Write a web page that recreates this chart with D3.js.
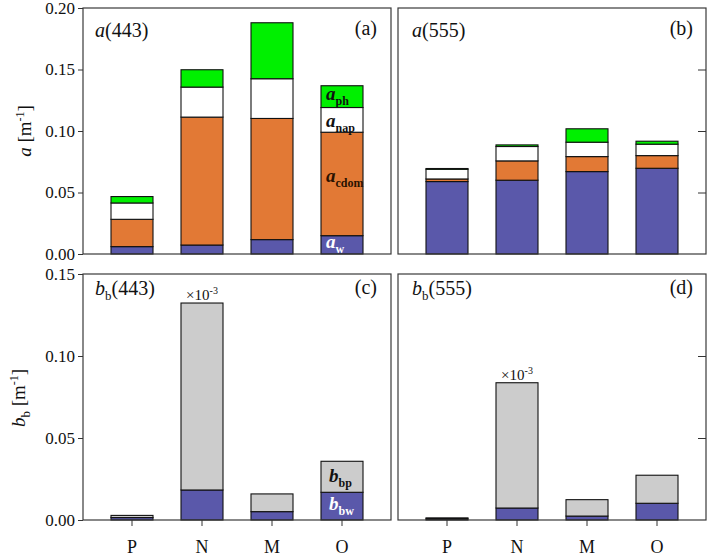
<!DOCTYPE html>
<html><head><meta charset="utf-8">
<script src="https://cdn.jsdelivr.net/npm/d3@7"></script>
<style>body{margin:0;background:#fff}svg{display:block}text{font-family:"Liberation Serif","Times New Roman",serif;fill:#111}</style>
</head><body><svg id="c" width="709" height="558"></svg>
<script>
// ---- data ----
const categories = ["P","N","M","O"];
// absorption at 443 nm (stack components, m^-1)
const a443_w    = [0.0060, 0.0073, 0.0117, 0.0149];
const a443_cdom = [0.0222, 0.1040, 0.0985, 0.0841];
const a443_nap  = [0.0133, 0.0244, 0.0323, 0.0201];
const a443_ph   = [0.0052, 0.0141, 0.0455, 0.0177];
// absorption at 555 nm
const a555_w    = [0.0589, 0.0600, 0.0670, 0.0697];
const a555_cdom = [0.0021, 0.0157, 0.0122, 0.0103];
const a555_nap  = [0.0079, 0.0117, 0.0117, 0.0093];
const a555_ph   = [0.0006, 0.0013, 0.0109, 0.0024];
// backscattering at 443 nm
const bb443_w = [0.0015, 0.0183, 0.0051, 0.0169];
const bb443_p = [0.0013, 0.1140, 0.0108, 0.0189];
// backscattering at 555 nm
const bb555_w = [0.0007, 0.0073, 0.0024, 0.0102];
const bb555_p = [0.0006, 0.0764, 0.0100, 0.0171];
// tick values
const aTicks  = [0, 0.05, 0.10, 0.15, 0.20];
const bbTicks = [0, 0.05, 0.10, 0.15];

const colors = {w:"#5a58aa", cdom:"#e27935", nap:"#ffffff", ph:"#00f000", bw:"#5a58aa", bp:"#cccccc"};

const svg = d3.select("#c");
svg.append("rect").attr("width",709).attr("height",558).attr("fill","#fff");

function makeRows(arrs, keys){
  return categories.map((c,i)=>{const r={cat:c}; keys.forEach((k,j)=>r[k]=arrs[j][i]); return r;});
}

function panel(o){
  const x = d3.scaleBand().domain(categories).range([o.x0,o.x1]).paddingInner(0.4).paddingOuter(0.4);
  const y = d3.scaleLinear().domain([0,o.ymax]).range([o.yb,o.yt]);
  const g = svg.append("g");
  const rows = makeRows(o.arrs, o.keys);
  const stack = d3.stack().keys(o.keys)(rows);
  stack.forEach(layer=>{
    g.selectAll(null).data(layer).enter().append("rect")
      .attr("x",d=>x(d.data.cat)).attr("width",x.bandwidth())
      .attr("y",d=>y(d[1])).attr("height",d=>y(d[0])-y(d[1]))
      .attr("fill",colors[layer.key]).attr("stroke","#111").attr("stroke-width",1.1);
  });
  // frame
  g.append("rect").attr("x",o.x0).attr("y",o.yt).attr("width",o.x1-o.x0).attr("height",o.yb-o.yt)
    .attr("fill","none").attr("stroke","#3a3a3a").attr("stroke-width",1.2);
  if(o.left){
    const ax = g.append("g").attr("transform",`translate(${o.x0},0)`)
      .call(d3.axisLeft(y).tickValues(o.ticks).tickFormat(d3.format(".2f")).tickSize(5).tickPadding(3));
    ax.select(".domain").remove();
    ax.selectAll("line").attr("stroke","#333");
    ax.selectAll("text").attr("font-size",17).attr("font-family","Liberation Serif").attr("fill","#111");
  } else {
    const ax = g.append("g").attr("transform",`translate(${o.x1},0)`)
      .call(d3.axisLeft(y).tickValues(o.ticks.slice(1,-1)).tickFormat("").tickSize(8));
    ax.select(".domain").remove();
    ax.selectAll("line").attr("stroke","#333").attr("x2",-8);
  }
  if(o.bottom){
    const ax = g.append("g").attr("transform",`translate(0,${o.yb})`)
      .call(d3.axisBottom(x).tickSize(6).tickPadding(14));
    ax.select(".domain").remove();
    ax.selectAll("line").attr("stroke","#333");
    ax.selectAll("text").attr("font-size",18).attr("font-family","Liberation Serif").attr("fill","#111");
  }
  return {x,y,g};
}

const pa = panel({x0:83,x1:391,yt:8,yb:254,ymax:0.2,ticks:aTicks,left:true,bottom:false,
  arrs:[a443_w,a443_cdom,a443_nap,a443_ph],keys:["w","cdom","nap","ph"]});
const pb = panel({x0:398,x1:706,yt:8,yb:254,ymax:0.2,ticks:aTicks,left:false,bottom:false,
  arrs:[a555_w,a555_cdom,a555_nap,a555_ph],keys:["w","cdom","nap","ph"]});
const pc = panel({x0:83,x1:391,yt:274,yb:520,ymax:0.15,ticks:bbTicks,left:true,bottom:true,
  arrs:[bb443_w,bb443_p],keys:["bw","bp"]});
const pd = panel({x0:398,x1:706,yt:274,yb:520,ymax:0.15,ticks:bbTicks,left:false,bottom:true,
  arrs:[bb555_w,bb555_p],keys:["bw","bp"]});

// helper for rich text
function rich(parent, x, y, parts, opts={}){
  const t = parent.append("text").attr("x",x).attr("y",y).attr("font-size",opts.size||19);
  if(opts.anchor) t.attr("text-anchor",opts.anchor);
  if(opts.rotate) t.attr("transform",`rotate(-90,${x},${y})`);
  if(opts.fill) t.style("fill",opts.fill);
  if(opts.weight) t.attr("font-weight",opts.weight);
  let shift=0;
  parts.forEach(p=>{
    const s = t.append("tspan").text(p.t);
    if(p.italic) s.attr("font-style","italic");
    if(p.size) s.attr("font-size",p.size);
    const target = p.dy||0;
    if(target!==shift){ s.attr("dy",target-shift); shift=target; }
  });
  return t;
}

// titles
rich(svg, 95, 37, [{t:"a",italic:true},{t:"(443)"}], {size:20});
rich(svg, 412, 37, [{t:"a",italic:true},{t:"(555)"}], {size:20});
rich(svg, 95, 295, [{t:"b",italic:true},{t:"b",size:13,dy:5},{t:"(443)",dy:0}], {size:20});
rich(svg, 412, 295, [{t:"b",italic:true},{t:"b",size:13,dy:5},{t:"(555)",dy:0}], {size:20});
rich(svg, 377, 35, [{t:"(a)"}], {size:20,anchor:"end"});
rich(svg, 693, 35, [{t:"(b)"}], {size:20,anchor:"end"});
rich(svg, 377, 294, [{t:"(c)"}], {size:20,anchor:"end"});
rich(svg, 693, 294, [{t:"(d)"}], {size:20,anchor:"end"});

// y-axis titles
rich(svg, 31, 131, [{t:"a",italic:true},{t:" [m"},{t:"-1",size:12,dy:-7},{t:"]",dy:0}], {size:19,anchor:"middle",rotate:true});
rich(svg, 25, 398, [{t:"b",italic:true},{t:"b",size:13,dy:5},{t:" [m",dy:0},{t:"-1",size:12,dy:-7},{t:"]",dy:0}], {size:19,anchor:"middle",rotate:true});

// x10^-3 labels above N bars
[[pc,bb443_w,bb443_p],[pd,bb555_w,bb555_p]].forEach(([p,w,b])=>{
  const cx = p.x("N")+p.x.bandwidth()/2;
  const top = p.y(w[1]+b[1]);
  rich(svg, cx, top-3, [{t:"\u00d710"},{t:"-3",size:10,dy:-6}], {size:15,anchor:"middle"});
});

// in-bar labels on O bar of panel (a)
(function(){
  const xo = pa.x("O")+5;
  const i = 3;
  const c1=a443_w[i], c2=c1+a443_cdom[i], c3=c2+a443_nap[i], c4=c3+a443_ph[i];
  const lab = (lo,hi,sub,fill,dy)=>rich(svg, xo, pa.y((lo+hi)/2)+dy,
    [{t:"a",italic:true},{t:sub,size:12,dy:5}], {size:19,weight:"bold",fill});
  lab(c3,c4,"ph","#111",3);
  lab(c2,c3,"nap","#111",7);
  lab(c1,c2,"cdom","#2a1200",-2);
  lab(0,c1,"w","#ffffff",3);
})();
(function(){
  const xo = pc.x("O")+8;
  const i = 3;
  const c1=bb443_w[i], c2=c1+bb443_p[i];
  const lab = (lo,hi,sub,fill,dy)=>rich(svg, xo, pc.y((lo+hi)/2)+dy,
    [{t:"b",italic:true},{t:sub,size:12,dy:5}], {size:19,weight:"bold",fill});
  lab(c1,c2,"bp","#111",5);
  lab(0,c1,"bw","#ffffff",4);
})();
</script></body></html>
